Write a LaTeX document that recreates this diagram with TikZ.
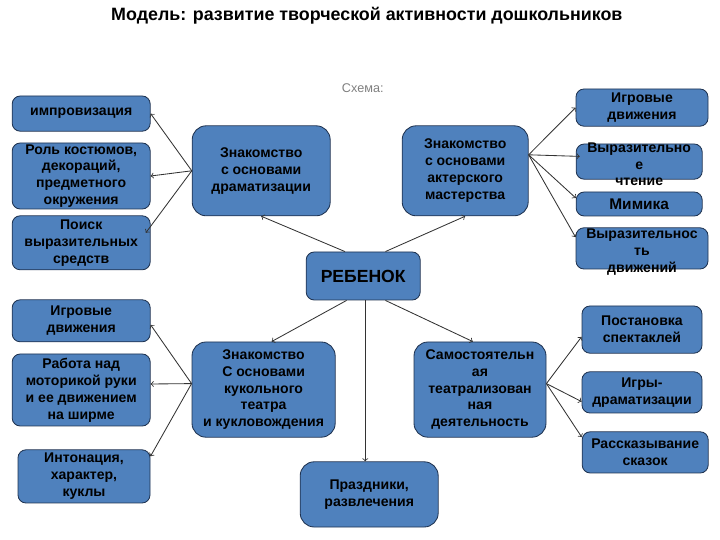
\documentclass[tikz,border=0pt]{standalone}
\usepackage{fontspec}
\setmainfont{Liberation Sans}
\usepackage{tikz}
\definecolor{boxfill}{RGB}{79,129,189}
\definecolor{boxline}{RGB}{30,50,80}
\tikzset{
    box/.style={draw=boxline, fill=boxfill, line width=0.6pt, rounded corners=0.2cm,
        align=center, inner sep=0mm, font=\bfseries\fontsize{10}{12}\selectfont},
    bigbox/.style={box, rounded corners=0.35cm},
    arr/.style={->, draw=black!80, line width=0.6pt}
}
\newcommand{\overflow}[1]{\smash{\raisebox{-0.19cm}{\begin{tabular}{@{}c@{}}#1\end{tabular}}}}

\begin{document}
\begin{tikzpicture}
    \useasboundingbox (0cm, 0cm) rectangle (18cm, 13.5cm);

    \node (title) at (9.17cm, 13.1cm) [font=\bfseries\fontsize{12.7}{15}\selectfont] {Модель: развитие творческой активности дошкольников};
    \node (schema) at (9.07cm, 11.3cm) [font=\fontsize{9}{11}\selectfont, text=black!50] {Схема:};

    % центр
    \node (reb) at (9.08cm, 6.6cm) [box, minimum width=2.85cm, minimum height=1.2cm, font=\bfseries\fontsize{12.5}{14}\selectfont] {РЕБЕНОК};

    % драматизация
    \node (drama) at (6.53cm, 9.23cm) [bigbox, minimum width=3.45cm, minimum height=2.25cm] {Знакомство\\с основами\\драматизации};
    \node (imp) at (2.03cm, 10.66cm) [box, minimum width=3.45cm, minimum height=0.88cm] {импровизация};
    \node (rol) at (2.03cm, 9.1cm) [box, minimum width=3.45cm, minimum height=1.65cm] {Роль костюмов,\\декораций,\\предметного\\окружения};
    \node (poisk) at (2.03cm, 7.43cm) [box, minimum width=3.45cm, minimum height=1.35cm] {Поиск\\выразительных\\средств};

    % актерское мастерство
    \node (acting) at (11.63cm, 9.23cm) [bigbox, minimum width=3.15cm, minimum height=2.25cm] {Знакомство\\с основами\\актерского\\мастерства};
    \node (igr1) at (16.05cm, 10.81cm) [box, minimum width=3.3cm, minimum height=0.93cm] {Игровые\\движения};
    \node (chten) at (15.98cm, 9.46cm) [box, minimum width=3.15cm, minimum height=0.88cm] {\overflow{Выразительно\\е\\чтение}};
    \node (mimika) at (15.98cm, 8.4cm) [box, minimum width=3.15cm, minimum height=0.6cm, font=\bfseries\fontsize{11}{13}\selectfont] {Мимика};
    \node (vyrdv) at (16.05cm, 7.29cm) [box, minimum width=3.3cm, minimum height=1.03cm] {\overflow{Выразительнос\\ть\\движений}};

    % кукольный театр
    \node (puppet) at (6.59cm, 3.76cm) [bigbox, minimum width=3.58cm, minimum height=2.38cm] {Знакомство\\С основами\\кукольного\\театра\\и кукловождения};
    \node (igr2) at (2.03cm, 5.48cm) [box, minimum width=3.45cm, minimum height=1.05cm] {Игровые\\движения};
    \node (rabota) at (2.03cm, 3.75cm) [box, minimum width=3.45cm, minimum height=1.8cm] {Работа над\\моторикой руки\\и ее движением\\на ширме};
    \node (inton) at (2.1cm, 1.59cm) [box, minimum width=3.3cm, minimum height=1.33cm] {Интонация,\\характер,\\куклы};

    % праздники
    \node (prazd) at (9.23cm, 1.14cm) [bigbox, minimum width=3.45cm, minimum height=1.63cm] {Праздники,\\развлечения};

    % самостоятельная деятельность
    \node (samost) at (12.0cm, 3.76cm) [bigbox, minimum width=3.3cm, minimum height=2.38cm] {Самостоятельн\\ая\\театрализован\\ная\\деятельность};
    \node (postan) at (16.05cm, 5.26cm) [box, minimum width=3.0cm, minimum height=1.18cm] {Постановка\\спектаклей};
    \node (igry) at (16.05cm, 3.69cm) [box, minimum width=3.0cm, minimum height=1.03cm] {Игры-\\драматизации};
    \node (rasskaz) at (16.13cm, 2.19cm) [box, minimum width=3.15cm, minimum height=1.03cm] {Рассказывание\\сказок};

    \draw ([xshift=0.98cm]reb.north west) edge[arr] (drama.south);
    \draw ([xshift=-0.88cm]reb.north east) edge[arr] (acting.south);
    \draw ([xshift=1.02cm]reb.south west) edge[arr] ([xshift=0.2cm]puppet.north);
    \draw ([xshift=-0.88cm]reb.south east) edge[arr] ([xshift=-0.18cm]samost.north);
    \draw ([xshift=0.05cm]reb.south) edge[arr] ([xshift=0.05cm]reb.south |- prazd.north);

    \draw (drama.west) edge[arr] (imp.east);
    \draw (drama.west) edge[arr] (rol.east);
    \draw (drama.west) edge[arr] ([shift={(-0.12cm,0.25cm)}]poisk.east);

    \draw ([yshift=0.4cm]acting.east) edge[arr] (igr1.west);
    \draw ([yshift=0.4cm]acting.east) edge[arr] ([shift={(0.1cm,0.13cm)}]chten.west);
    \draw ([yshift=0.4cm]acting.east) edge[arr] ([yshift=0.15cm]mimika.west);
    \draw ([yshift=0.4cm]acting.east) edge[arr] ([yshift=0.28cm]vyrdv.west);

    \draw ([yshift=0.15cm]puppet.west) edge[arr] ([yshift=-0.1cm]igr2.east);
    \draw ([yshift=0.15cm]puppet.west) edge[arr] ([yshift=0.15cm]rabota.east);
    \draw ([yshift=0.15cm]puppet.west) edge[arr] ([yshift=0.5cm]inton.east);

    \draw ([yshift=0.15cm]samost.east) edge[arr] ([yshift=-0.18cm]postan.west);
    \draw ([yshift=0.15cm]samost.east) edge[arr] ([yshift=-0.23cm]igry.west);
    \draw ([yshift=0.15cm]samost.east) edge[arr] ([yshift=0.38cm]rasskaz.west);
\end{tikzpicture}
\end{document}
